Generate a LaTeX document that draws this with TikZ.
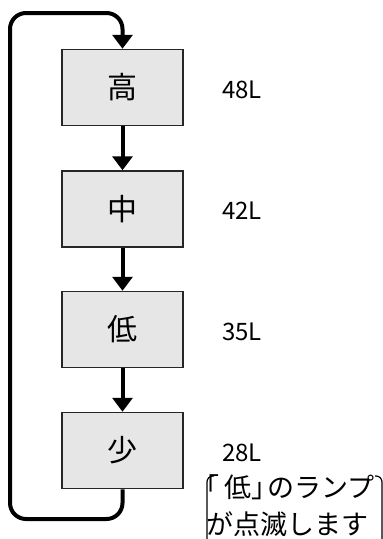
\documentclass[tikz,border=0pt]{standalone}
\usepackage{fontspec}
\setmainfont{Noto Sans CJK JP}
\newfontfamily\notefont[RawFeature=+halt]{Noto Sans CJK JP}
\usetikzlibrary{arrows.meta, positioning}
\definecolor{mboxfill}{HTML}{E6E6E6}
\definecolor{mboxline}{HTML}{262626}
\tikzset{
  lvlbox/.style={draw=mboxline, fill=mboxfill, line width=1.5pt, minimum width=121pt,
                 minimum height=76pt, inner sep=0pt, font=\fontsize{30}{32}\selectfont},
  lvllabel/.style={anchor=west, inner sep=0pt, font=\fontsize{24}{28}\selectfont},
  arr/.style={-{Triangle[width=20pt,length=14pt]}, line width=4pt, black},
  bracketline/.style={line width=1.2pt, black, rounded corners=6pt},
}
\begin{document}
\begin{tikzpicture}[x=1pt, y=-1pt]
  \useasboundingbox (0,0) rectangle (383,539);

  %% Level boxes
  \node[lvlbox] (high) at (122.5, 87.5) {高};
  \node[lvlbox] (mid)  at (122.5, 209)  {中};
  \node[lvlbox] (low)  at (122.5, 329.5) {低};
  \node[lvlbox] (few)  at (122.5, 450.5) {少};

  %% Volume labels
  \node[lvllabel] (lblhigh) at (222, 90)  {48L};
  \node[lvllabel] (lblmid)  at (222, 211) {42L};
  \node[lvllabel] (lbllow)  at (222, 332) {35L};
  \node[lvllabel] (lblfew)  at (222, 453) {28L};

  %% Arrows down
  \draw[arr] (high.south) -- (mid.north);
  \draw[arr] (mid.south) -- (low.north);
  \draw[arr] (low.south) -- (few.north);

  %% Loop back to the top
  \coordinate (loopbl) at (10, 519);
  \coordinate (looptl) at (10, 13);
  \draw[arr, rounded corners=16pt] (few.south) |- (loopbl) -- (looptl) -| (high.north);

  %% Note with bracket pair
  \node[anchor=north west, align=left, inner sep=0pt, font=\notefont\fontsize{27}{37}\selectfont]
    (note) at (206, 474) {「\hspace{5pt}低」\hspace{2pt}のランプ\\が点滅します};
  \draw[bracketline] (214, 476) -- (207, 476) -- (207, 545);
  \draw[bracketline] (375, 476) -- (382, 476) -- (382, 545);

\end{tikzpicture}
\end{document}
